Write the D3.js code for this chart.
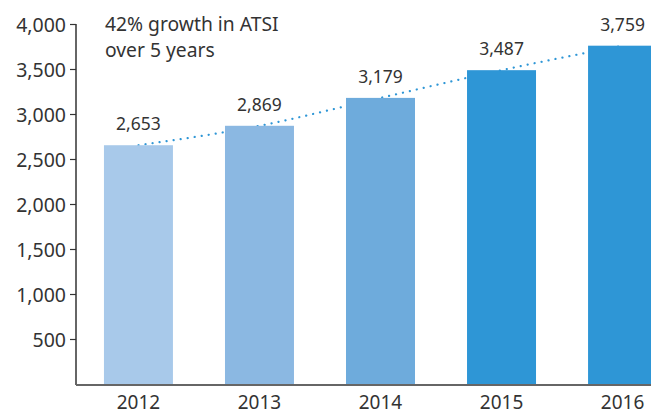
<!DOCTYPE html>
<html>
<head>
<meta charset="utf-8">
<script src="https://cdn.jsdelivr.net/npm/d3@7"></script>
<style>
  body { margin: 0; background: #fff; }
  text { font-family: "Noto Sans", sans-serif; fill: #333; }
</style>
</head>
<body>
<div id="container"></div>
<script>
// data
const years = ["2012", "2013", "2014", "2015", "2016"];
const counts = [2653, 2869, 3179, 3487, 3759];
const barColors = ["#a8c9ea", "#8bb8e2", "#6eabdc", "#2e96d6", "#2e96d6"];
const yTicks = [500, 1000, 1500, 2000, 2500, 3000, 3500, 4000];
const noteLines = ["42% growth in ATSI", "over 5 years"];

const width = 651, height = 412;

const svg = d3.select("#container").append("svg")
  .attr("width", width)
  .attr("height", height);

const y = d3.scaleLinear().domain([0, 4000]).range([384, 24]);
const x = d3.scaleBand().domain(years).range([76, 685])
  .paddingInner(0.43).paddingOuter(0.231);

// trend line, sits behind the bars
const line = d3.line()
  .x((d, i) => x(years[i]) + x.bandwidth() / 2)
  .y(d => y(d))
  .curve(d3.curveMonotoneX);

svg.append("path")
  .datum(counts)
  .attr("d", line)
  .attr("fill", "none")
  .attr("stroke", "#2e96d6")
  .attr("stroke-width", 2.2)
  .attr("stroke-linecap", "round")
  .attr("stroke-dasharray", "0.1,7");

// bars
svg.selectAll(".bar")
  .data(counts)
  .join("rect")
  .attr("class", "bar")
  .attr("x", (d, i) => x(years[i]))
  .attr("y", d => y(d))
  .attr("width", x.bandwidth())
  .attr("height", d => y(0) - y(d))
  .attr("fill", (d, i) => barColors[i]);

// value labels
svg.selectAll(".val")
  .data(counts)
  .join("text")
  .attr("class", "val")
  .attr("x", (d, i) => x(years[i]) + x.bandwidth() / 2)
  .attr("y", d => y(d) - 15)
  .attr("text-anchor", "middle")
  .style("font-size", "17.5px")
  .text(d => d3.format(",")(d));

// y axis
const yAxis = svg.append("g")
  .attr("transform", "translate(76,0)")
  .call(d3.axisLeft(y).tickValues(yTicks).tickFormat(d3.format(",")).tickSize(6).tickSizeOuter(0));
yAxis.select(".domain").attr("stroke", "#333").attr("stroke-width", 1.5)
  .attr("d", "M0," + y(4000) + "V" + (y(0) + 1));
yAxis.selectAll(".tick line").attr("stroke", "#333").attr("stroke-width", 1.2);
yAxis.selectAll(".tick text").style("font-size", "19.5px").attr("x", -10).attr("dy", "0.36em");

// x axis line
svg.append("line")
  .attr("x1", 76).attr("x2", width)
  .attr("y1", y(0) + 1).attr("y2", y(0) + 1)
  .attr("stroke", "#666").attr("stroke-width", 2);

svg.selectAll(".year")
  .data(years)
  .join("text")
  .attr("class", "year")
  .attr("x", d => x(d) + x.bandwidth() / 2)
  .attr("y", 409)
  .attr("text-anchor", "middle")
  .style("font-size", "19px")
  .text(d => d);

// note
svg.append("text")
  .attr("x", 105)
  .attr("y", 31)
  .style("font-size", "19.3px")
  .selectAll("tspan")
  .data(noteLines)
  .join("tspan")
  .attr("x", 105)
  .attr("dy", (d, i) => i ? 26 : 0)
  .text(d => d);
</script>
</body>
</html>
